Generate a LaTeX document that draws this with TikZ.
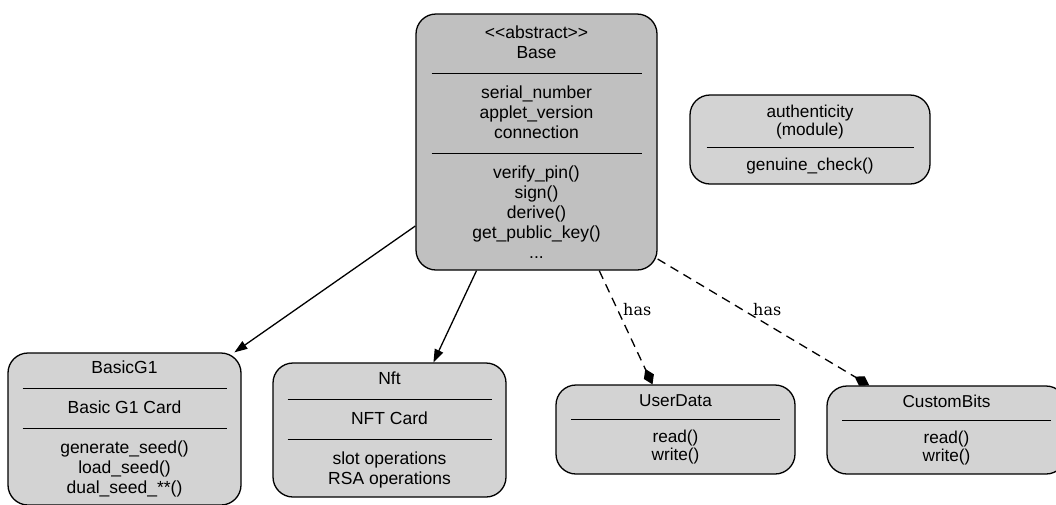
\documentclass[tikz,border=0pt]{standalone}
\usepackage{fontspec}
\setmainfont{Liberation Sans}
\newfontfamily\hasfont{DejaVu Serif}
\usetikzlibrary{arrows.meta}
\definecolor{basegray}{RGB}{192,192,192}
\definecolor{boxgray}{RGB}{211,211,211}
\newcommand{\sepline}[1]{\rule[0.27em]{#1}{0.9pt}}
\begin{document}
\begin{tikzpicture}[x=1pt,y=-1pt,
  cls/.style={draw, line width=1.3pt, rounded corners=20pt, fill=boxgray, align=center, inner sep=0pt, font=\fontsize{17.5}{20}\selectfont},
  small/.style={cls, font=\fontsize{17.2}{17.8}\selectfont},
  inh/.style={line width=1.3pt, -{Triangle[length=13pt,width=9pt]}},
  hasedge/.style={line width=1.3pt, dash pattern=on 9pt off 6pt, -{Diamond[length=17pt,width=11pt]}},
  lbl/.style={font=\hasfont\fontsize{16}{18}\selectfont, inner sep=0pt}]
\useasboundingbox (0,0) rectangle (1056,504);

\node[cls, fill=basegray, minimum width=241pt, minimum height=256pt] (base) at (536.5,142)
  {<{}<abstract>{}>\\Base\\\sepline{210pt}\\serial\_number\\applet\_version\\connection\\\sepline{210pt}\\verify\_pin()\\sign()\\derive()\\get\_public\_key()\\...};

\node[small, minimum width=240pt, minimum height=89pt] (auth) at (810,139.5)
  {authenticity\\(module)\\\sepline{207pt}\\genuine\_check()};

\node[cls, minimum width=233pt, minimum height=152pt] (basic) at (124.5,429)
  {BasicG1\\\sepline{204pt}\\Basic G1 Card\\\sepline{204pt}\\generate\_seed()\\load\_seed()\\dual\_seed\_**()};

\node[cls, minimum width=233pt, minimum height=134pt] (nft) at (389.5,430)
  {Nft\\\sepline{204pt}\\NFT Card\\\sepline{204pt}\\slot operations\\RSA operations};

\node[small, minimum width=239pt, minimum height=89pt] (user) at (675.5,429.5)
  {UserData\\\sepline{209pt}\\read()\\write()};

\node[small, minimum width=239pt, minimum height=88pt] (custom) at (946.5,430)
  {CustomBits\\\sepline{209pt}\\read()\\write()};

\draw[inh] (base) -- (basic);
\draw[inh] (base.245) -- (nft.57);
\draw[hasedge] (base.296) -- (user.117);
\draw[hasedge] (base.316) -- (custom.150);

\node[lbl, anchor=west] (h1) at (623,310) {has};
\node[lbl, anchor=west] (h2) at (753,310) {has};
\end{tikzpicture}
\end{document}
